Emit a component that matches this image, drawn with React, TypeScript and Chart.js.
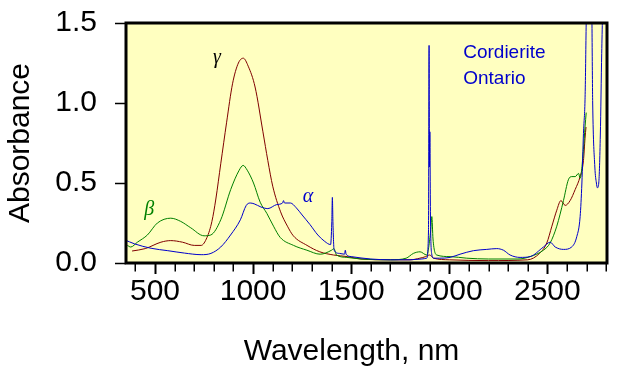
import React, { useEffect, useRef } from 'react';
import { Chart, registerables } from 'chart.js';

Chart.register(...registerables);

// ---- data (wavelength in nm, absorbance) ----
const gammaWl = [383, 450, 530, 580, 640, 700, 735, 765, 790, 810, 835, 865, 895, 925, 950, 975, 1010, 1050, 1075, 1100, 1140, 1175, 1205, 1275, 1340, 1410, 1480, 1550, 1700, 1800, 1850, 1880, 1900, 1920, 2000, 2200, 2400, 2460, 2497, 2523, 2548, 2569, 2591, 2616, 2642, 2667, 2684, 2692, 2697];
const gammaAbs = [0.075, 0.09, 0.13, 0.14, 0.13, 0.11, 0.11, 0.16, 0.26, 0.40, 0.62, 0.88, 1.12, 1.25, 1.28, 1.23, 1.10, 0.82, 0.64, 0.48, 0.32, 0.23, 0.17, 0.11, 0.07, 0.05, 0.04, 0.025, 0.02, 0.02, 0.03, 0.04, 0.05, 0.03, 0.02, 0.015, 0.02, 0.06, 0.125, 0.23, 0.33, 0.39, 0.36, 0.39, 0.46, 0.54, 0.64, 0.78, 0.85];

const betaWl = [359, 376, 410, 461, 512, 580, 631, 682, 750, 784, 835, 886, 929, 949, 970, 1002, 1036, 1070, 1104, 1138, 1206, 1274, 1342, 1400, 1412, 1425, 1478, 1550, 1700, 1780, 1817, 1851, 1885, 1905, 1911, 1917, 1936, 2004, 2089, 2200, 2350, 2412, 2480, 2514, 2548, 2582, 2607, 2624, 2642, 2659, 2667, 2684, 2692, 2698];
const betaAbs = [0.11, 0.10, 0.13, 0.175, 0.25, 0.28, 0.26, 0.22, 0.17, 0.175, 0.27, 0.46, 0.58, 0.61, 0.58, 0.50, 0.38, 0.31, 0.23, 0.16, 0.11, 0.08, 0.055, 0.08, 0.09, 0.05, 0.035, 0.025, 0.02, 0.03, 0.06, 0.07, 0.05, 0.2, 0.29, 0.15, 0.05, 0.04, 0.03, 0.025, 0.025, 0.04, 0.08, 0.125, 0.23, 0.39, 0.52, 0.54, 0.54, 0.56, 0.53, 0.71, 0.85, 0.94];

const alphaWl = [345, 395, 480, 565, 650, 735, 785, 835, 885, 935, 965, 985, 1005, 1040, 1075, 1120, 1150, 1155, 1160, 1190, 1220, 1250, 1290, 1330, 1365, 1395, 1401, 1404, 1407, 1413, 1440, 1466, 1470, 1474, 1500, 1600, 1700, 1800, 1860, 1885, 1894, 1897, 1899, 1901, 1904, 1910, 1920, 1950, 2004, 2055, 2123, 2191, 2242, 2276, 2310, 2361, 2412, 2480, 2514, 2540, 2582, 2624, 2650, 2667, 2676, 2684, 2692, 2702, 2725, 2731, 2742, 2750, 2755, 2762, 2770, 2777, 2785, 2805];
const alphaAbs = [0.145, 0.12, 0.092, 0.077, 0.062, 0.052, 0.06, 0.10, 0.175, 0.27, 0.36, 0.375, 0.37, 0.35, 0.34, 0.365, 0.375, 0.39, 0.375, 0.375, 0.345, 0.30, 0.24, 0.175, 0.135, 0.115, 0.25, 0.41, 0.25, 0.08, 0.06, 0.055, 0.08, 0.055, 0.04, 0.025, 0.02, 0.02, 0.025, 0.03, 0.2, 1.36, 0.6, 0.82, 0.3, 0.06, 0.03, 0.03, 0.035, 0.055, 0.077, 0.085, 0.09, 0.08, 0.05, 0.035, 0.04, 0.10, 0.13, 0.10, 0.085, 0.10, 0.165, 0.29, 0.5, 0.81, 1.02, 1.7, 1.7, 1.0, 0.6, 0.5, 0.47, 0.5, 0.8, 1.31, 1.7, 1.9];

const xMajorTicks = [500, 1000, 1500, 2000, 2500];
const xMinorTicks = [400, 600, 700, 800, 900, 1100, 1200, 1300, 1400, 1600, 1700, 1800, 1900, 2100, 2200, 2300, 2400, 2600, 2700, 2800];
const yTicks = [0, 0.5, 1.0, 1.5];

// labels placed in data coordinates
const labelTexts = ['γ', 'β', 'α'];
const labelWl = [816, 470, 1280];
const labelAbs = [1.281, 0.331, 0.4125];
const labelColors = ['#000000', '#008000', '#0000CC'];

const noteLines = ['Cordierite', 'Ontario'];
const noteWl = 2071;
const noteAbs = [1.281, 1.119];

const X_TITLE = 'Wavelength, nm';
const Y_TITLE = 'Absorbance';

const PLOT_BG = '#FFFFC0';
const FONT = '"Liberation Sans", Arial, sans-serif';

function zip(xs: number[], ys: number[]) {
  const n = Math.min(xs.length, ys.length);
  const out: { x: number; y: number }[] = [];
  for (let i = 0; i < n; i++) out.push({ x: xs[i], y: ys[i] });
  return out;
}

const decorPlugin = {
  id: 'decor',
  beforeDraw(chart: any) {
    const { ctx, chartArea } = chart;
    const { left, top, right, bottom } = chartArea;
    ctx.save();
    ctx.fillStyle = PLOT_BG;
    ctx.fillRect(left, top, right - left, bottom - top);
    ctx.restore();
  },
  afterDatasetsDraw(chart: any) {
    const { ctx } = chart;
    const xs = chart.scales.x;
    const ys = chart.scales.y;
    ctx.save();
    ctx.textAlign = 'center';
    ctx.textBaseline = 'middle';
    ctx.font = `italic 20px "Liberation Serif", serif`;
    for (let i = 0; i < labelTexts.length; i++) {
      ctx.fillStyle = labelColors[i];
      ctx.fillText(labelTexts[i], xs.getPixelForValue(labelWl[i]), ys.getPixelForValue(labelAbs[i]));
    }
    ctx.textAlign = 'left';
    ctx.textBaseline = 'alphabetic';
    ctx.font = `19px ${FONT}`;
    ctx.fillStyle = '#0000CC';
    for (let i = 0; i < noteLines.length; i++) {
      ctx.fillText(noteLines[i], xs.getPixelForValue(noteWl), ys.getPixelForValue(noteAbs[i]));
    }
    ctx.restore();
  },
  afterDraw(chart: any) {
    const { ctx, chartArea } = chart;
    const { left, top, right, bottom } = chartArea;
    const xs = chart.scales.x;
    ctx.save();
    // minor ticks
    ctx.strokeStyle = '#000';
    ctx.lineWidth = 1.5;
    ctx.beginPath();
    for (const v of xMinorTicks) {
      const px = Math.round(xs.getPixelForValue(v)) + 0.25;
      ctx.moveTo(px, bottom);
      ctx.lineTo(px, bottom + 8.5);
    }
    ctx.stroke();
    // frame
    ctx.lineWidth = 3;
    ctx.strokeRect(left, top, right - left, bottom - top);
    // x title
    ctx.fillStyle = '#000';
    ctx.font = `30px ${FONT}`;
    ctx.textAlign = 'center';
    ctx.textBaseline = 'alphabetic';
    ctx.fillText(X_TITLE, (left + right) / 2 - 15, 360);
    ctx.restore();
  },
};

export default function App() {
  const ref = useRef<HTMLCanvasElement | null>(null);
  useEffect(() => {
    if (!ref.current) return;
    const chart = new Chart(ref.current, {
      type: 'line',
      data: {
        datasets: [
          { label: 'alpha', data: zip(alphaWl, alphaAbs), borderColor: '#0000CC', borderWidth: 1, pointRadius: 0, cubicInterpolationMode: 'monotone', fill: false },
          { label: 'beta', data: zip(betaWl, betaAbs), borderColor: '#008000', borderWidth: 1, pointRadius: 0, cubicInterpolationMode: 'monotone', fill: false },
          { label: 'gamma', data: zip(gammaWl, gammaAbs), borderColor: '#800000', borderWidth: 1, pointRadius: 0, cubicInterpolationMode: 'monotone', fill: false },
        ],
      },
      options: {
        responsive: false,
        animation: false,
        devicePixelRatio: 1,
        layout: { padding: { left: 0, top: 23, right: 13, bottom: 0 } },
        plugins: { legend: { display: false }, tooltip: { enabled: false }, title: { display: false } },
        scales: {
          x: {
            type: 'linear',
            min: 352,
            max: 2804,
            afterBuildTicks: (scale: any) => {
              scale.ticks = xMajorTicks.map((v) => ({ value: v }));
            },
            afterFit: (scale: any) => {
              scale.height = 122;
              scale.paddingLeft = 0;
              scale.paddingRight = 0;
            },
            border: { display: false },
            grid: { display: true, drawOnChartArea: false, drawTicks: true, tickLength: 11, tickColor: '#000', tickWidth: 2 },
            ticks: {
              autoSkip: false,
              maxRotation: 0,
              padding: 0,
              color: '#000',
              font: { family: FONT, size: 30, lineHeight: 1.2 },
              callback: (v: any) => String(v),
            },
            title: { display: false },
          },
          y: {
            type: 'linear',
            min: 0,
            max: 1.5,
            afterBuildTicks: (scale: any) => {
              scale.ticks = yTicks.map((v) => ({ value: v }));
            },
            afterFit: (scale: any) => {
              scale.width = 126;
              scale.paddingTop = 0;
              scale.paddingBottom = 0;
            },
            border: { display: false },
            grid: { display: true, drawOnChartArea: false, drawTicks: true, tickLength: 11, tickColor: '#000', tickWidth: 1.5 },
            ticks: {
              padding: 18,
              color: '#000',
              font: { family: FONT, size: 30, lineHeight: 1.2 },
              callback: (v: any) => Number(v).toFixed(1),
            },
            title: {
              display: true,
              text: Y_TITLE,
              color: '#000',
              font: { family: FONT, size: 30, lineHeight: 1.2 },
              padding: { top: 3, bottom: 0 },
            },
          },
        },
      },
      plugins: [decorPlugin],
    } as any);
    return () => chart.destroy();
  }, []);
  return (
    <div style={{ position: 'absolute', left: 0, top: 0, width: 620, height: 385, background: '#fff' }}>
      <canvas ref={ref} width={620} height={385} style={{ display: 'block' }} />
    </div>
  );
}
